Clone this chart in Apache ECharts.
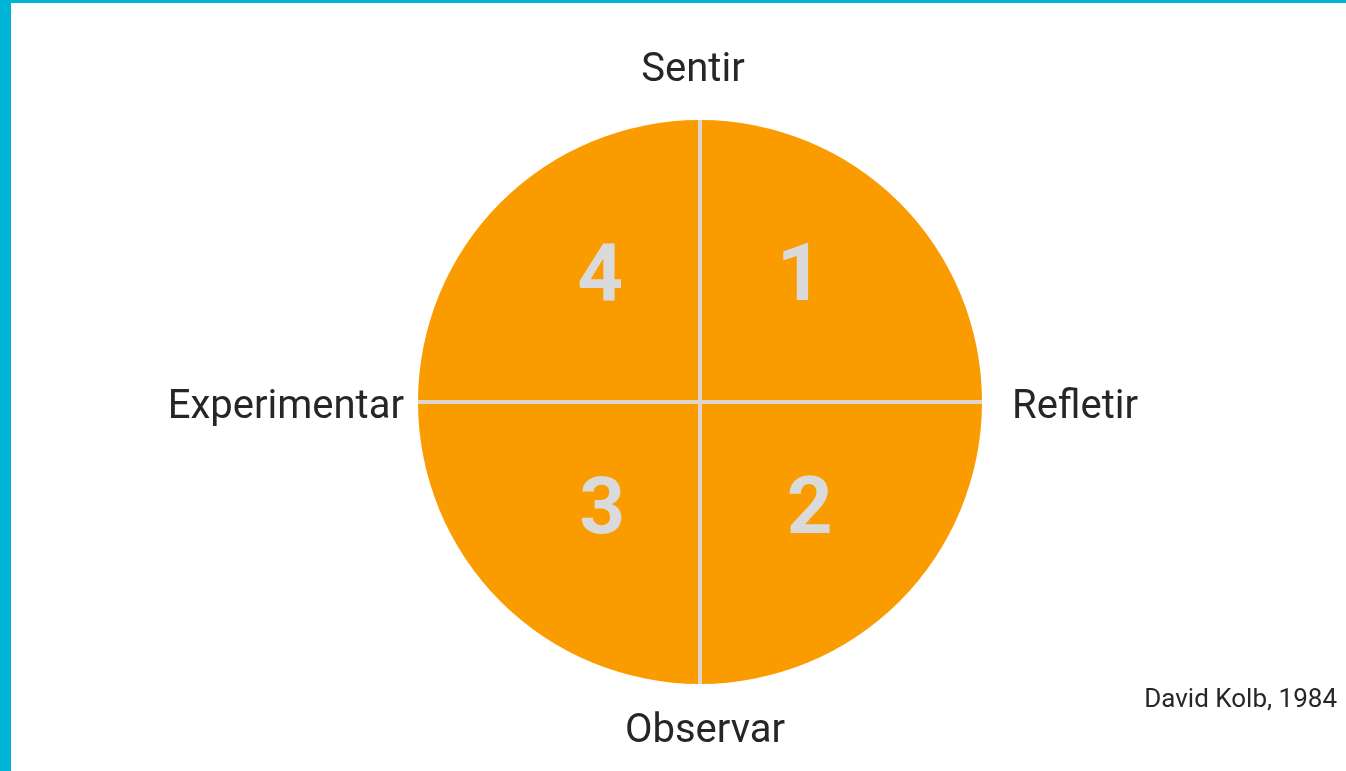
<!DOCTYPE html>
<html>
<head>
<meta charset="utf-8">
<title>Ciclo de Kolb</title>
<script src="https://cdn.jsdelivr.net/npm/echarts@6/dist/echarts.min.js"></script>
<style>
  html, body { margin: 0; padding: 0; background: #fff; }
  #main { width: 1346px; height: 771px; }
</style>
</head>
<body>
<div id="main"></div>
<script>
// quadrantes do ciclo (sentido horario a partir do topo-direita)
var quadrants = ['1', '2', '3', '4'];
var quadrantValues = [1, 1, 1, 1];
// polos dos eixos
var poles = ['Sentir', 'Refletir', 'Observar', 'Experimentar'];
// eixos divisores (diametros), em unidades do raio
var axisVertical = [[0, -1], [0, 1]];
var axisHorizontal = [[-1, 0], [1, 0]];
var source = 'David Kolb, 1984';

var orange = '#FA9B00';
var divider = '#DED6CC';
var textColor = '#262626';
var cx = 700, cy = 402, R = 282;

// ajuste fino dos numeros dentro de cada quadrante
var labelNudge = [[-2, -20], [8, 9], [4, 9], [2, -20]];

var chart = echarts.init(document.getElementById('main'));

var pieData = quadrants.map(function (name, i) {
  return {
    name: name,
    value: quadrantValues[i],
    label: { offset: labelNudge[i] }
  };
});

var poleStyle = { fill: textColor, font: '40px Roboto' };

function lineSeries(data) {
  return {
    type: 'line',
    data: data,
    symbol: 'none',
    silent: true,
    lineStyle: { color: divider, width: 4 },
    z: 5
  };
}

var option = {
  animation: false,
  backgroundColor: '#fff',
  grid: { left: cx - R, top: cy - R, width: 2 * R, height: 2 * R },
  xAxis: { type: 'value', min: -1, max: 1, show: false },
  yAxis: { type: 'value', min: -1, max: 1, show: false },
  series: [
    {
      type: 'pie',
      center: [cx, cy],
      radius: R,
      startAngle: 90,
      clockwise: true,
      silent: true,
      itemStyle: { color: orange, borderWidth: 0 },
      label: {
        show: true,
        position: 'inside',
        formatter: '{b}',
        color: '#DADADA',
        fontFamily: 'Roboto',
        fontWeight: 'bold',
        fontSize: 80
      },
      labelLine: { show: false },
      emphasis: { disabled: true },
      data: pieData,
      z: 2
    },
    lineSeries(axisVertical),
    lineSeries(axisHorizontal)
  ],
  graphic: [
    // faixas azuis da moldura
    { type: 'rect', left: 0, top: 0, shape: { width: 11, height: 771 }, style: { fill: '#00B4D8' }, silent: true },
    { type: 'rect', left: 0, top: 0, shape: { width: 1346, height: 3 }, style: { fill: '#00B4D8' }, silent: true },
    { type: 'text', x: 693, y: 71, style: Object.assign({ text: poles[0], textAlign: 'center', textVerticalAlign: 'middle' }, poleStyle) },
    { type: 'text', x: 1012, y: 408, style: Object.assign({ text: poles[1], textAlign: 'left', textVerticalAlign: 'middle' }, poleStyle) },
    { type: 'text', x: 705, y: 732, style: Object.assign({ text: poles[2], textAlign: 'center', textVerticalAlign: 'middle' }, poleStyle) },
    { type: 'text', x: 404, y: 408, style: Object.assign({ text: poles[3], textAlign: 'right', textVerticalAlign: 'middle' }, poleStyle) },
    { type: 'text', x: 1337, y: 700, style: { text: source, textAlign: 'right', textVerticalAlign: 'middle', fill: textColor, font: '26px Roboto' } }
  ]
};

chart.setOption(option);
</script>
</body>
</html>
